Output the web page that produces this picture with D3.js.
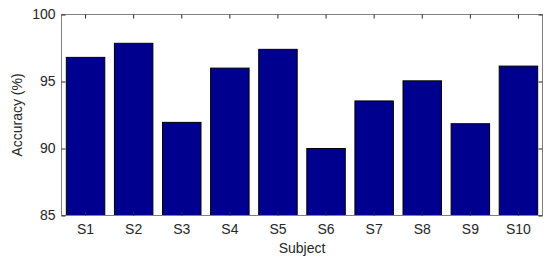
<!DOCTYPE html>
<html>
<head>
<meta charset="utf-8">
<script src="https://cdn.jsdelivr.net/npm/d3@7"></script>
<style>
  body { margin: 0; background: #fff; }
  svg text { font-family: "Liberation Sans", Arial, sans-serif; fill: #262626; }
</style>
</head>
<body>
<div id="chart"></div>
<script>
// accuracy per subject
const subjects = ["S1", "S2", "S3", "S4", "S5", "S6", "S7", "S8", "S9", "S10"];
const accuracy = [96.8, 97.85, 91.95, 96.0, 97.4, 90.0, 93.55, 95.05, 91.85, 96.15];
const yTicks = [85, 90, 95, 100];

const W = 550, H = 259;
const margin = { top: 14.5, right: 7.5, bottom: 43.5, left: 61.5 };
const width = W - margin.left - margin.right;
const height = H - margin.top - margin.bottom;

const svg = d3.select('#chart').append('svg')
    .attr('width', W)
    .attr('height', H)
  .append('g')
    .attr('transform', `translate(${margin.left},${margin.top})`);

const x = d3.scaleBand()
    .domain(subjects)
    .range([0, width])
    .paddingInner(0.2)
    .paddingOuter(0.1);

const y = d3.scaleLinear()
    .domain([85, 100])
    .range([height, 0]);

// bars
svg.selectAll('.bar')
    .data(subjects)
    .enter().append('rect')
    .attr('class', 'bar')
    .attr('x', d => x(d))
    .attr('width', x.bandwidth())
    .attr('y', (d, i) => y(accuracy[i]))
    .attr('height', (d, i) => height - y(accuracy[i]))
    .style('fill', '#00008f')
    .style('stroke', '#000')
    .style('stroke-width', 1);

// box
svg.append('rect')
    .attr('width', width)
    .attr('height', height)
    .style('fill', 'none')
    .style('stroke', '#808080')
    .style('stroke-width', 1);

// axes, ticks inward
const xAxis = svg.append('g')
    .attr('transform', `translate(0,${height})`)
    .call(d3.axisBottom(x).tickSizeInner(-4).tickSizeOuter(0).tickPadding(9));
const xTop = svg.append('g')
    .call(d3.axisTop(x).tickSizeInner(-4).tickSizeOuter(0).tickFormat(''));
const yAxis = svg.append('g')
    .call(d3.axisLeft(y).tickValues(yTicks).tickSizeInner(-4).tickSizeOuter(0).tickPadding(6));
const yRight = svg.append('g')
    .attr('transform', `translate(${width},0)`)
    .call(d3.axisRight(y).tickValues(yTicks).tickSizeInner(-4).tickSizeOuter(0).tickFormat(''));

[xAxis, xTop, yAxis, yRight].forEach(g => {
    g.select('.domain').remove();
    g.selectAll('line').style('stroke', '#262626');
    g.selectAll('text').style('font-size', '14px').style('fill', '#262626')
        .style('font-family', '"Liberation Sans", Arial, sans-serif');
});

// axis labels
svg.append('text')
    .attr('x', width / 2)
    .attr('y', height + 37)
    .attr('text-anchor', 'middle')
    .style('font-size', '14px')
    .text('Subject');

svg.append('text')
    .attr('transform', 'rotate(-90)')
    .attr('x', -height / 2)
    .attr('y', -40)
    .attr('text-anchor', 'middle')
    .style('font-size', '14px')
    .text('Accuracy (%)');
</script>
</body>
</html>
